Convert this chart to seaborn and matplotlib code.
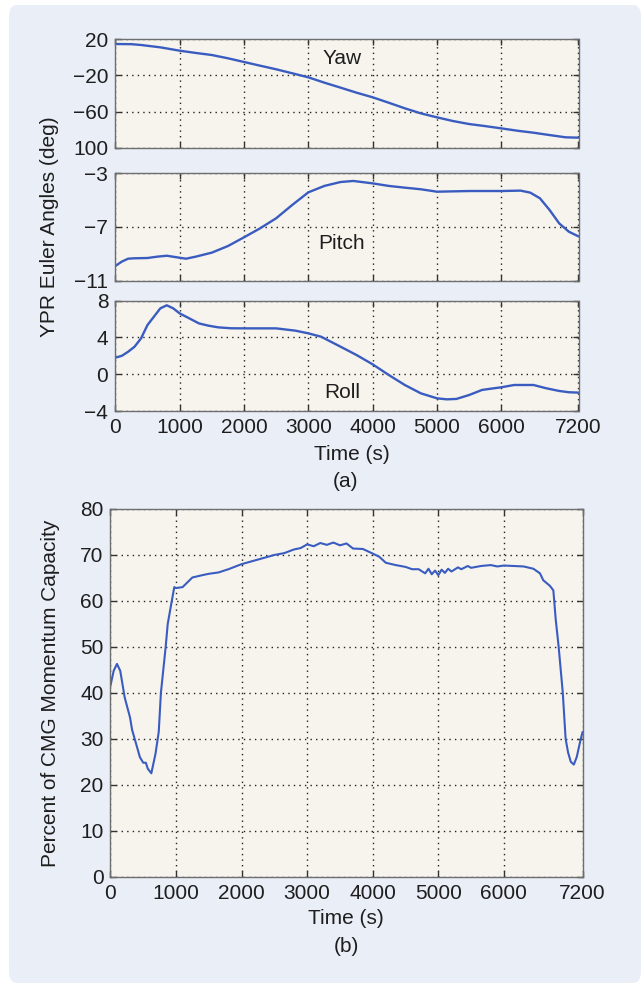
import numpy as np
import pandas as pd
import matplotlib
matplotlib.use("Agg")
import matplotlib.pyplot as plt
from matplotlib.patches import FancyBboxPatch
import seaborn as sns

# ---------------- data ----------------
yaw_t = [0, 250, 400, 700, 1000, 1250, 1500, 1750, 2000, 2250, 2500, 2750, 3000, 3250, 3500, 3750,
         4000, 4250, 4500, 4750, 5000, 5250, 5500, 5750, 6000, 6250, 6500, 6750, 7000, 7200]
yaw_v = [14.8, 14.6, 13.7, 11.1, 7.4, 4.9, 2.6, -1.0, -5.1, -9.2, -13.2, -17.6, -22.1, -28.0, -33.5, -39.1,
         -44.2, -50.2, -56.4, -62.0, -66.4, -70.5, -73.8, -76.1, -78.6, -81.2, -83.4, -86.0, -88.5, -88.9]

pitch_t = [0, 100, 200, 300, 500, 650, 800, 1000, 1100, 1250, 1500, 1750, 2000, 2250, 2500, 2750, 3000,
           3250, 3500, 3700, 4000, 4250, 4500, 4750, 5000, 5500, 6000, 6300, 6450, 6600, 6750, 6900, 7050, 7200]
pitch_v = [-9.91, -9.58, -9.36, -9.33, -9.31, -9.21, -9.14, -9.29, -9.36, -9.21, -8.91, -8.42, -7.77, -7.10,
           -6.35, -5.36, -4.42, -3.94, -3.65, -3.57, -3.75, -3.94, -4.07, -4.19, -4.37, -4.32, -4.32, -4.29,
           -4.44, -4.86, -5.73, -6.73, -7.35, -7.70]

roll_t = [0, 100, 200, 300, 400, 500, 600, 700, 800, 900, 1000, 1150, 1300, 1450, 1600, 1800, 2000, 2500,
          2800, 3000, 3200, 3500, 3750, 4000, 4250, 4500, 4750, 5000, 5150, 5300, 5500, 5700, 5800, 6000,
          6200, 6500, 6700, 6900, 7050, 7200]
roll_v = [1.80, 2.0, 2.45, 3.0, 3.90, 5.35, 6.26, 7.17, 7.50, 7.17, 6.62, 6.08, 5.53, 5.28, 5.10, 5.0, 4.99,
          4.99, 4.74, 4.45, 4.08, 3.0, 2.09, 1.08, -0.08, -1.17, -2.08, -2.62, -2.73, -2.69, -2.26, -1.71,
          -1.61, -1.42, -1.17, -1.17, -1.53, -1.82, -1.96, -2.0]

cmg_t = [0, 50, 100, 150, 218, 300, 330, 400, 450, 500, 540, 570, 624, 687, 737, 770, 843, 874, 936, 974,
         1000, 1100, 1250, 1400, 1500, 1650, 1800, 2000, 2200, 2500, 2650, 2800, 2900, 3000, 3100, 3200,
         3300, 3400, 3500, 3600, 3700, 3850, 4000, 4100, 4200, 4350, 4500, 4600, 4700, 4800, 4850, 4900,
         4950, 5000, 5050, 5100, 5150, 5200, 5300, 5350, 5450, 5500, 5650, 5800, 5900, 6000, 6150, 6300,
         6450, 6550, 6600, 6700, 6754, 6790, 6835, 6898, 6941, 6979, 7020, 7066, 7110, 7166, 7200]
cmg_v = [41.5, 44.8, 46.3, 44.8, 39.0, 34.6, 32.0, 28.5, 26.0, 24.8, 24.8, 23.5, 22.5, 26.7, 31.5, 40.0,
         50.0, 55.0, 60.0, 63.0, 62.8, 63.0, 65.1, 65.6, 65.9, 66.2, 66.9, 68.0, 68.8, 70.0, 70.4, 71.2,
         71.5, 72.3, 71.9, 72.6, 72.2, 72.7, 72.1, 72.5, 71.4, 71.3, 70.3, 69.6, 68.3, 67.8, 67.4, 66.9,
         66.9, 66.0, 67.0, 65.8, 66.6, 65.6, 66.8, 66.1, 67.0, 66.4, 67.3, 66.9, 67.6, 67.2, 67.6, 67.8,
         67.5, 67.7, 67.6, 67.5, 67.0, 66.0, 64.5, 63.3, 62.3, 56.0, 50.0, 40.0, 30.0, 27.0, 25.0, 24.4,
         26.0, 29.6, 31.5]

x_ticks = [0, 1000, 2000, 3000, 4000, 5000, 6000, 7200]
yaw_ticks = [20, -20, -60, -100]
yaw_ticklabels = ["20", "\u221220", "\u221260", "100"]
pitch_ticks = [-3, -7, -11]
roll_ticks = [8, 4, 0, -4]
cmg_ticks = [0, 10, 20, 30, 40, 50, 60, 70, 80]

# ---------------- style ----------------
sns.set_theme(style="white")
plt.rcParams["font.family"] = ["Liberation Sans", "DejaVu Sans"]
plt.rcParams["axes.unicode_minus"] = True

W, H = 641, 983
fig = plt.figure(figsize=(W / 100, H / 100), dpi=100, facecolor="white")

panel = FancyBboxPatch((9 / W, 0), 1 - 9 / W, 1 - 5 / H,
                       boxstyle="round,pad=0,rounding_size=0.012",
                       transform=fig.transFigure, facecolor="#e9eef7",
                       edgecolor="none", zorder=-10)
fig.patches.append(panel)

LINE = "#3a5cc0"
FACE = "#f6f4ed"
SPINE = "#6e6e6e"
TXT = "#1e1e1e"
FS = 15


def fx(px):
    return px / W


def fy(py):
    return 1 - py / H


def make_ax(l, t, r, b):
    ax = fig.add_axes([fx(l), fy(b), fx(r) - fx(l), fy(t) - fy(b)])
    ax.set_facecolor(FACE)
    for s in ax.spines.values():
        s.set_color(SPINE)
        s.set_linewidth(1.0)
    ax.grid(True, color="#222222", linestyle=(0, (1, 3)), linewidth=1.0)
    ax.tick_params(direction="in", length=4, width=1, colors="#333333",
                   labelcolor=TXT, labelsize=FS, top=True, right=True,
                   bottom=True, left=True, pad=5)
    ax.set_xlim(0, 7200)
    ax.set_xticks(x_ticks)
    return ax


# Yaw
ax1 = make_ax(115.3, 39.3, 578.5, 147.7)
sns.lineplot(x=yaw_t, y=yaw_v, ax=ax1, color=LINE, linewidth=1.7)
ax1.set_ylim(-100, 20)
ax1.set_yticks(yaw_ticks)
ax1.set_yticklabels(yaw_ticklabels)
ax1.set_xticklabels([])
ax1.text(0.489, 0.82, "Yaw", transform=ax1.transAxes, ha="center", va="center", fontsize=FS, color=TXT)

# Pitch
ax2 = make_ax(115.3, 173.3, 578.5, 280.7)
sns.lineplot(x=pitch_t, y=pitch_v, ax=ax2, color=LINE, linewidth=1.7)
ax2.set_ylim(-11, -3)
ax2.set_yticks(pitch_ticks)
ax2.set_xticklabels([])
ax2.text(0.489, 0.35, "Pitch", transform=ax2.transAxes, ha="center", va="center", fontsize=FS, color=TXT)

# Roll
ax3 = make_ax(115.3, 300.7, 578.5, 411.0)
sns.lineplot(x=roll_t, y=roll_v, ax=ax3, color=LINE, linewidth=1.7)
ax3.set_ylim(-4, 8)
ax3.set_yticks(roll_ticks)
ax3.set_xticklabels([str(v) for v in x_ticks])
ax3.text(0.489, 0.17, "Roll", transform=ax3.transAxes, ha="center", va="center", fontsize=FS, color=TXT)
ax3.set_xlabel("")

for a in (ax1, ax2, ax3):
    a.set_ylabel("")

fig.text(fx(50), fy(227), "YPR Euler Angles (deg)", rotation=90, ha="center", va="center",
         fontsize=FS, color=TXT)
fig.text(fx(352), fy(455), "Time (s)", ha="center", va="center", fontsize=FS, color=TXT)
fig.text(fx(346), fy(481), "(a)", ha="center", va="center", fontsize=FS, color=TXT)

# CMG
ax4 = make_ax(110.4, 509.0, 582.6, 876.7)
sns.lineplot(x=cmg_t, y=cmg_v, ax=ax4, color=LINE, linewidth=1.5)
ax4.set_ylim(0, 80)
ax4.set_yticks(cmg_ticks)
ax4.set_xticklabels([str(v) for v in x_ticks])
ax4.set_xlabel("")
ax4.set_ylabel("")
fig.text(fx(51), fy(693), "Percent of CMG Momentum Capacity", rotation=90, ha="center", va="center",
         fontsize=FS, color=TXT)
fig.text(fx(346), fy(919), "Time (s)", ha="center", va="center", fontsize=FS, color=TXT)
fig.text(fx(346), fy(946), "(b)", ha="center", va="center", fontsize=FS, color=TXT)

fig.savefig("out.png", dpi=100, facecolor="white")
